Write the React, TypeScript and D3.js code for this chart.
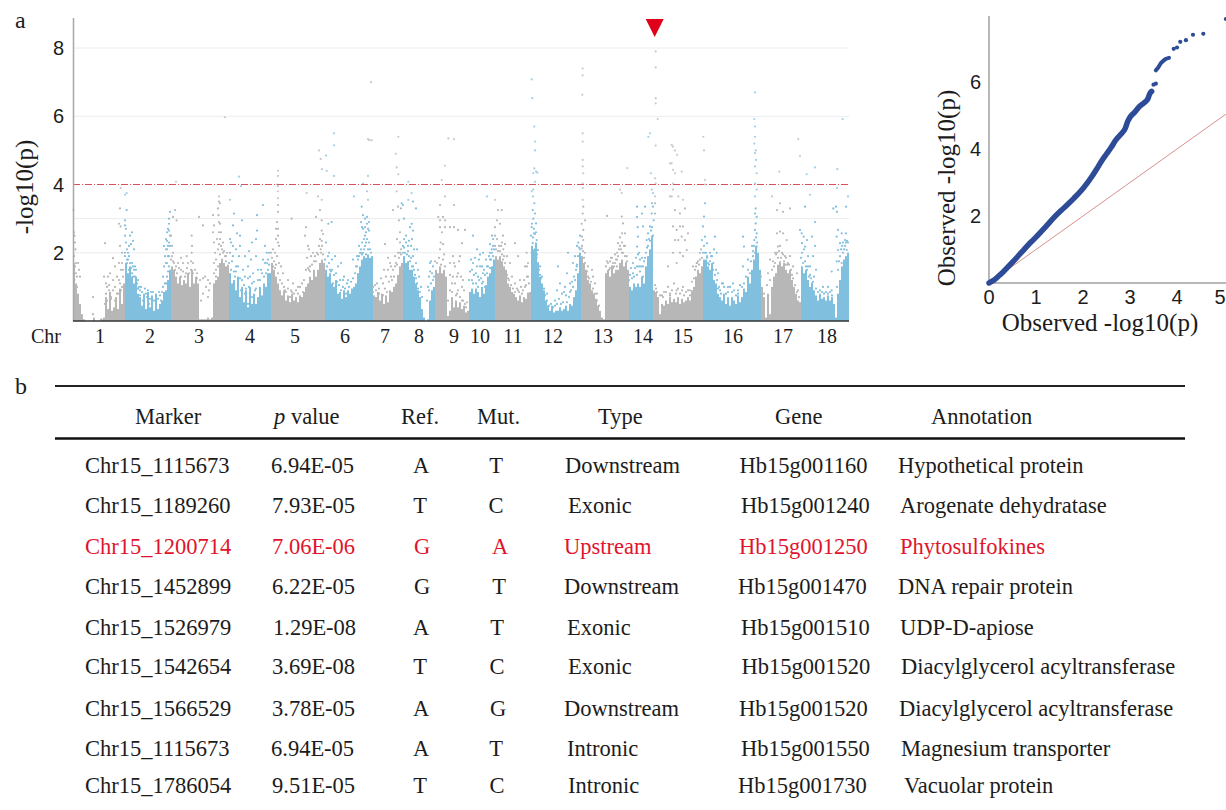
import React from "react";
import * as d3 from "d3";

type Pt = [number, number];

const W = 1226;
const H = 810;

// Manhattan: genome position (arbitrary units along the concatenated chromosomes), -log10(p)
const chrLabels = ["1", "2", "3", "4", "5", "6", "7", "8", "9", "10", "11", "12", "13", "14", "15", "16", "17", "18"];
const chrLabelPos = [27, 77, 126, 177, 222, 272, 312, 346, 381, 407, 440, 480, 530, 570, 610, 660, 710, 754];
const yTicks = [2, 4, 6, 8];
const gridValues = [2, 3, 6, 8];
const threshold = 4;

// top of the solid mass, one value per 2 position units, from the first position of each chromosome
const massStep = 2;
const massStarts = [0, 52, 98, 156, 198, 252, 300, 330, 362, 396, 422, 458, 508, 556, 580, 630, 688, 728];
const chr1Mass = [1.7, 1.1, 0.8, 0.5, 0.2, 0.05, 0, 0, 0, 0, 0.1, 0, 0, 0, 0.05, 0.1, 0.7, 0.35, 0.85, 0.3, 0.4, 0.7, 0.35, 0.95, 0.5, 1.1];
const chr2Mass = [1.7, 1.4, 1.6, 1.3, 1.1, 1.3, 0.8, 0.7, 0.45, 0.8, 0.35, 0.85, 0.4, 0.75, 0.3, 0.8, 0.35, 0.5, 0.6, 0.85, 0.9, 1.2, 1.5];
const chr3Mass = [1.6, 1.5, 1.3, 1.1, 1.3, 1.05, 1.2, 1.1, 1.4, 1.0, 1.5, 1.1, 1.3, 1.1, 0.05, 0.05, 0.05, 0.05, 0.1, 0.05, 0.1, 1.1, 1.2, 1.3, 1.7, 1.8, 1.7, 1.6, 1.65];
const chr4Mass = [1.4, 1.1, 1.2, 0.9, 1.3, 0.7, 1.0, 0.55, 0.9, 0.4, 1.0, 0.5, 0.8, 0.5, 0.7, 1.0, 0.75, 1.1, 1.0, 1.4, 1.4];
const chr5Mass = [1.7, 1.5, 1.3, 1.1, 0.9, 0.75, 0.9, 0.6, 0.75, 0.55, 0.8, 0.6, 0.7, 0.55, 0.75, 0.7, 0.85, 1.0, 1.1, 1.3, 1.2, 1.5, 1.3, 1.5, 1.7, 1.8, 1.7];
const chr6Mass = [1.5, 1.3, 1.4, 1.1, 1.0, 1.2, 0.8, 0.85, 0.65, 0.9, 0.7, 0.9, 0.8, 0.95, 1.0, 1.1, 1.4, 1.6, 1.8, 1.9, 1.85, 1.95, 1.85, 1.9];
const chr7Mass = [0.75, 0.7, 0.85, 0.6, 0.8, 0.5, 0.75, 0.55, 0.9, 0.85, 1.0, 1.1, 1.35, 1.6, 1.7];
const chr8Mass = [1.9, 1.7, 1.75, 1.5, 1.5, 1.3, 1.1, 0.9, 0.7, 0.35, 0.1, 0, 0.05, 0.6, 0.9, 1.0];
const chr9Mass = [1.5, 1.4, 1.6, 1.4, 1.5, 1.3, 0.15, 0.3, 0.7, 0.4, 0.6, 0.4, 0.55, 0.35, 0.45, 0.25, 0.3];
const chr10Mass = [0.85, 0.95, 0.8, 0.95, 0.85, 0.7, 1.0, 0.8, 1.05, 1.3, 1.4, 1.6, 1.8];
const chr11Mass = [1.9, 1.8, 1.9, 1.75, 1.6, 1.5, 1.1, 1.0, 0.85, 0.8, 0.7, 0.6, 0.75, 0.55, 0.7, 0.65, 0.8, 0.85];
const chr12Mass = [2.2, 2.1, 2.3, 1.7, 1.3, 1.1, 0.9, 0.6, 0.45, 0.3, 0.4, 0.25, 0.3, 0.3, 0.4, 0.3, 0.35, 0.45, 0.3, 0.5, 0.45, 0.7, 0.9, 1.4, 2.0];
const chr13Mass = [1.9, 1.7, 1.5, 1.2, 1.1, 0.9, 0.8, 0.65, 0.45, 0.3, 0.1, 0.05, 1.4, 1.5, 1.3, 1.6, 1.4, 1.5, 1.5, 1.7, 1.8, 1.6, 1.7, 1.5];
const chr14Mass = [1.0, 0.9, 1.1, 1.0, 1.1, 1.0, 1.3, 1.1, 1.6, 1.9, 2.1, 2.5];
const chr15Mass = [0.9, 0.85, 0.7, 0.2, 0.5, 0.45, 0.6, 0.5, 0.7, 0.55, 0.65, 0.55, 0.7, 0.5, 0.65, 0.55, 0.6, 0.7, 0.6, 0.9, 1.0, 1.3, 1.5, 1.4, 1.6];
const chr16Mass = [1.8, 1.8, 1.6, 1.5, 1.7, 1.2, 1.1, 0.8, 0.7, 0.6, 0.8, 0.5, 0.7, 0.45, 0.7, 0.6, 0.5, 0.75, 0.55, 0.7, 0.95, 0.85, 1.3, 1.1, 1.5, 1.8, 2.2, 2.0, 1.5];
const chr17Mass = [1.0, 0.7, 0.1, 0.8, 0.2, 1.0, 1.3, 1.4, 1.65, 1.75, 1.6, 1.7, 1.5, 1.4, 1.5, 1.2, 1.0, 0.8, 0.6, 0.55];
const chr18Mass = [1.6, 1.4, 1.5, 1.2, 1.0, 1.1, 0.9, 0.75, 0.6, 0.8, 0.65, 0.7, 0.6, 0.75, 0.6, 0.7, 0.5, 0.1, 0.8, 1.2, 1.6, 1.8, 1.9, 2.0];
const chrMass = [chr1Mass, chr2Mass, chr3Mass, chr4Mass, chr5Mass, chr6Mass, chr7Mass, chr8Mass, chr9Mass, chr10Mass, chr11Mass, chr12Mass, chr13Mass, chr14Mass, chr15Mass, chr16Mass, chr17Mass, chr18Mass];

// loose points above the mass
const chr1Dots: Pt[] = [[0.5, 3.25], [1, 2.6], [1.5, 2.5], [2, 2.3], [2.5, 2.1], [1, 1.9], [3, 1.7], [5, 1.7], [6, 1.5], [4, 1.3], [7, 1.3], [1.5, 1.2], [4, 1.0], [20, 0.7], [20, 0.2], [28, 0.05], [32, 2.28], [31, 1.3], [33, 1.1], [33, 0.8], [32, 0.5], [34, 1], [36, 0.9], [40, 1.84], [42, 1.6], [47, 2.2], [47.7, 2.77], [46, 2.85], [47, 3.3], [47.7, 3.9], [37, 1.4], [44, 1.3], [46, 1.7], [48, 1.5], [50, 1.3], [49, 1.0], [38, 0.7], [42, 0.6], [45, 0.8], [47, 1.1], [49, 2.0], [3, 0.9], [1, 1.4], [2, 1.6], [3, 1.4], [2, 0.95], [34, 0.6], [36, 1.05], [38, 0.65], [40, 0.9], [40, 1.2], [42, 1.0], [44, 0.8], [46, 1.2], [48, 0.9], [50, 1.5], [49, 1.7], [35, 1.3]];
const chr2Dots: Pt[] = [[52, 3.7], [53.7, 3.75], [53.7, 3.25], [52, 2.95], [52, 2.8], [53, 2.7], [52, 2.5], [53, 2.3], [54, 2.1], [52, 2.0], [55, 2.0], [57, 2.5], [59, 2.6], [60, 2.35], [56, 2.2], [58, 2.25], [61, 2.1], [54, 1.8], [57, 1.7], [60, 1.6], [63, 1.5], [56, 1.5], [59, 1.4], [62, 1.3], [65, 1.2], [68, 1.0], [64, 0.95], [67, 0.9], [72, 0.95], [75, 0.9], [78, 0.85], [80, 0.85], [74, 0.7], [70, 0.6], [76, 0.5], [79, 0.4], [83, 0.75], [86, 0.85], [88, 0.6], [90, 1.0], [90, 1.3], [91, 1.6], [92, 1.9], [91, 2.2], [93, 2.4], [94, 2.6], [95, 2.7], [96, 3.0], [97, 3.2], [96, 2.85], [94, 2.1], [95, 1.9], [93, 1.7], [96, 1.6], [92, 1.1], [94, 1.3], [97, 2.2], [96, 2.3], [66, 0.6], [62, 1.0], [58, 1.1], [55, 1.2], [52, 1.9], [53, 1.6], [54, 1.7], [55, 1.8], [56, 1.9], [57, 1.4], [58, 1.55], [59, 1.7], [60, 1.3], [61, 1.5], [62, 1.6], [64, 1.1], [63, 1.2], [65, 0.95], [66, 1.0], [67, 0.75], [69, 0.85], [71, 0.7], [73, 0.8], [75, 0.6], [77, 0.65], [79, 0.7], [81, 0.6], [83, 0.5], [85, 0.65], [87, 0.75], [89, 0.85], [91, 0.75], [93, 1.1], [95, 1.45], [94, 1.7], [96, 1.9], [95, 2.2], [93, 2.1], [94, 2.35], [97, 2.5], [96, 2.65]];
const chr3Dots: Pt[] = [[98, 2.5], [100, 2.0], [99, 1.9], [101, 1.7], [103, 1.6], [105, 1.7], [110, 1.7], [115, 1.7], [120, 1.7], [108, 1.5], [113, 1.4], [118, 1.5], [124, 1.4], [126, 3.05], [130, 2.8], [118.7, 2.5], [119, 2.2], [118.7, 2.0], [113.7, 1.9], [108, 1.85], [103, 4.08], [102, 3.25], [100, 3.05], [103.6, 2.95], [127, 1.2], [130, 1.25], [133, 1.0], [135, 1.2], [130, 0.8], [137, 1.1], [135, 0.7], [128, 0.6], [136, 0.9], [132, 1.3], [140, 2.6], [140, 3.1], [141, 2.8], [141, 2.3], [142, 2.0], [145, 3.3], [145.5, 3.1], [146, 2.9], [146, 2.6], [147, 2.4], [146, 3.5], [146, 3.65], [148, 2.2], [150, 2.3], [150, 2.0], [152, 1.9], [145, 2.1], [143, 1.8], [149, 1.8], [153, 1.75], [152, 5.97], [147, 3.45], [98, 1.8], [99, 2.2], [100, 1.75], [102, 1.5], [104, 1.4], [106, 1.55], [108, 1.3], [110, 1.45], [112, 1.3], [114, 1.55], [116, 1.4], [118, 1.75], [120, 1.4], [122, 1.5], [124, 1.25], [141, 1.4], [143, 1.5], [145, 1.6], [147, 1.95], [149, 2.1], [151, 2.05], [153, 1.9], [154, 2.0], [146, 2.25], [144, 2.4], [148, 2.6], [147, 2.85], [141, 1.7], [143, 1.3]];
const chr4Dots: Pt[] = [[157, 3.55], [161, 3.15], [169, 2.95], [160, 2.8], [164, 2.57], [167, 2.5], [160, 2.2], [157, 2.4], [179, 2.3], [184, 3.1], [184, 2.65], [183, 2.4], [190, 3.4], [166, 4.23], [168, 3.95], [193.7, 2.0], [192, 2.2], [160, 1.9], [163, 1.6], [166, 1.9], [170, 1.5], [172, 1.3], [175, 1.6], [178, 1.8], [180, 1.4], [183, 1.9], [185, 1.2], [188, 1.5], [190, 1.8], [193, 1.4], [195, 1.8], [196, 2.0], [162, 1.3], [165, 1.1], [168, 0.9], [172, 0.8], [176, 1.0], [179, 0.7], [182, 0.9], [186, 0.6], [175, 0.5], [170, 0.4], [178, 0.3], [156, 1.7], [157, 2.0], [158, 1.5], [159, 1.75], [161, 1.45], [163, 1.45], [165, 1.6], [167, 1.25], [169, 1.2], [171, 1.05], [173, 0.95], [175, 1.25], [177, 1.3], [179, 1.1], [181, 1.15], [183, 0.95], [185, 1.5], [187, 1.2], [189, 1.4], [191, 1.3], [192, 1.7], [194, 1.7], [196, 1.65], [195, 1.5], [158, 2.3], [163, 2.1], [167, 2.2], [172, 1.9], [176, 2.05]];
const chr5Dots: Pt[] = [[205, 4.4], [205, 4.25], [205, 3.95], [204, 4.0], [205, 3.8], [205, 3.6], [205, 3.4], [205, 3.2], [204, 2.9], [203, 2.7], [205, 2.5], [205, 2.7], [203, 2.4], [205, 2.3], [206, 2.2], [200, 2.1], [202, 2.0], [204, 1.9], [206, 1.7], [208, 1.6], [200, 1.6], [210, 1.4], [215, 1.2], [220, 1.1], [225, 1.0], [218, 0.9], [212, 0.9], [230, 0.85], [235, 1.0], [236, 1.5], [238, 1.9], [232, 2.5], [233.7, 3.75], [218.7, 3.0], [233, 2.75], [235, 2.2], [237, 1.6], [242, 1.9], [243, 3.05], [245, 3.65], [248.7, 3.55], [247, 3.25], [248.7, 2.95], [248.7, 2.65], [248.7, 2.35], [250, 2.55], [247.7, 2.1], [246, 5.0], [247.7, 4.75], [249, 4.45], [198, 2.0], [199, 1.85], [201, 1.75], [202, 1.55], [203, 1.65], [205, 1.4], [207, 1.2], [209, 1.1], [211, 1.0], [213, 0.85], [215, 0.95], [217, 0.7], [219, 0.85], [221, 0.8], [223, 0.9], [225, 0.8], [227, 1.0], [229, 1.1], [231, 1.2], [233, 1.5], [235, 1.55], [237, 1.45], [239, 1.65], [240, 2.0], [241, 1.75], [243, 1.75], [244, 2.0], [245, 1.95], [246, 2.2], [247, 2.4], [248, 2.0], [249, 2.2], [250, 1.95], [234, 1.85], [236, 2.1]];
const chr6Dots: Pt[] = [[253, 4.85], [253.7, 4.4], [261, 5.5], [261, 5.15], [261, 4.25], [255.3, 2.85], [258.7, 2.9], [288.7, 3.35], [294, 3.8], [295, 3.55], [295, 4.25], [281, 3.65], [290, 4.03], [290, 3.1], [292, 3.0], [288, 2.9], [294, 2.85], [296, 2.9], [290, 2.7], [293, 2.6], [296, 2.65], [291, 2.4], [289, 2.3], [294, 2.4], [296, 2.3], [292, 2.2], [288, 2.1], [295, 2.1], [286, 2.2], [284, 1.9], [287, 2.0], [290, 2.0], [293, 1.95], [280, 1.8], [283, 1.6], [256, 2.0], [259, 1.8], [262, 1.9], [265, 1.6], [268, 1.7], [263, 1.4], [267, 1.2], [271, 1.3], [275, 1.2], [257, 1.5], [260, 1.1], [270, 1.0], [273, 0.8], [252, 1.8], [253, 2.3], [254, 1.6], [255, 1.9], [256, 1.7], [257, 1.25], [258, 1.45], [259, 1.5], [261, 1.35], [263, 1.1], [264, 1.15], [266, 1.05], [268, 0.9], [270, 1.2], [272, 0.95], [274, 1.1], [276, 1.0], [278, 1.15], [280, 1.25], [282, 1.4], [284, 1.6], [285, 1.8], [286, 1.9], [288, 2.0], [289, 1.95], [291, 2.1], [292, 2.5], [293, 2.3], [295, 2.7], [297, 2.1], [298, 2.0], [294, 3.05], [292, 2.75], [289, 2.75]];
const chr7Dots: Pt[] = [[298, 7.0], [295, 5.33], [296.3, 5.3], [298.6, 5.3], [320, 3.25], [323.7, 3.8], [325, 3.35], [323.7, 4.5], [322.7, 4.9], [325.3, 5.4], [325.3, 4.3], [312, 2.25], [315, 1.85], [317, 1.7], [300, 1.0], [303, 0.9], [306, 0.95], [310, 1.1], [313, 1.3], [311, 1.5], [315, 1.5], [318, 1.3], [320, 1.5], [323, 1.7], [325, 2.0], [327, 2.3], [327, 2.6], [326, 2.95], [328, 3.3], [328, 2.1], [324, 2.4], [322, 1.9], [300, 0.85], [302, 1.05], [304, 1.1], [306, 0.8], [308, 1.25], [310, 0.75], [312, 0.95], [314, 0.85], [316, 1.15], [318, 1.6], [319, 1.2], [321, 1.3], [322, 1.6], [324, 1.65], [326, 1.85], [327, 2.0], [328, 1.95]];
const chr8Dots: Pt[] = [[331, 3.0], [328.7, 3.45], [330, 3.4], [335.3, 4.08], [335.3, 3.55], [338.7, 3.75], [340, 3.5], [343, 3.3], [338.7, 2.85], [340, 2.65], [337, 2.75], [331, 2.4], [333, 2.3], [335, 2.2], [338, 2.2], [341, 2.1], [330, 2.0], [336, 1.9], [340, 1.9], [343, 1.7], [345, 1.5], [344, 2.1], [346, 1.3], [348, 1.0], [349, 0.7], [355, 1.0], [356, 1.3], [357, 1.7], [358, 1.75], [360, 1.6], [354, 0.6], [358, 1.1], [360, 1.2], [330, 2.2], [331, 2.15], [332, 2.0], [333, 2.5], [334, 1.95], [335, 2.05], [336, 2.35], [337, 1.75], [338, 1.85], [339, 1.6], [339, 2.4], [340, 1.6], [341, 1.5], [342, 1.35], [343, 1.25], [344, 1.1], [345, 0.95], [347, 0.85], [356, 0.9], [357, 1.45], [359, 1.4], [361, 1.3]];
const chr9Dots: Pt[] = [[368.7, 4.13], [372, 4.55], [375.3, 5.35], [367, 3.4], [372, 3.65], [365.3, 3.05], [367, 2.95], [370, 3.05], [372, 2.75], [367, 2.75], [367.7, 2.3], [370, 2.25], [367, 2.1], [371, 1.95], [381, 5.33], [381, 3.4], [372, 2.95], [369, 2.6], [381, 2.75], [377, 2.75], [385, 2.67], [392, 2.67], [389, 2.28], [380, 1.9], [387, 1.9], [377, 1.7], [382, 1.6], [385, 1.4], [390, 1.2], [379, 1.1], [384, 0.8], [389, 0.6], [393, 0.4], [377, 0.9], [379, 0.4], [362, 1.75], [364, 1.7], [366, 1.85], [368, 1.65], [370, 1.8], [372, 1.6], [375, 0.6], [377, 1.35], [379, 0.85], [380, 1.3], [381, 1.7], [382, 1.1], [383, 0.75], [384, 1.3], [385, 0.9], [386, 1.75], [387, 0.7], [388, 1.3], [389, 1.0], [390, 0.6], [391, 0.9], [392, 0.5], [394, 0.55]];
const chr10Dots: Pt[] = [[400, 2.5], [404, 2.1], [410, 2.0], [400, 1.7], [407, 1.6], [399, 1.5], [403, 1.4], [406, 1.8], [410, 1.4], [414, 1.6], [417, 2.25], [419, 2.5], [420, 2.4], [417, 2.0], [418.7, 2.1], [420, 1.9], [415, 1.2], [417, 1.8], [414, 3.65], [400, 1.1], [405, 1.0], [409, 1.1], [412, 1.0], [396, 1.2], [397, 1.45], [398, 1.8], [399, 1.2], [401, 1.35], [402, 1.85], [403, 1.1], [404, 1.6], [405, 1.3], [406, 1.2], [407, 1.95], [408, 1.25], [409, 1.6], [410, 1.15], [411, 1.5], [412, 1.35], [413, 1.8], [414, 1.4], [415, 1.6], [416, 1.9], [417, 1.55], [418, 1.8], [419, 2.0], [420, 2.2], [421, 2.1]];
const chr11Dots: Pt[] = [[422, 3.55], [424, 2.95], [425, 3.25], [428.7, 3.25], [427, 2.85], [422, 2.75], [422, 2.5], [430, 2.5], [429, 2.3], [432, 2.25], [430.3, 2.1], [442, 2.28], [434, 1.9], [437, 1.7], [439, 1.3], [442, 1.1], [445, 0.9], [449, 0.8], [452, 1.6], [453.7, 2.0], [454, 1.3], [455, 1.7], [452, 1.0], [445, 1.9], [447, 1.2], [455, 0.8], [422, 2.2], [423, 2.1], [424, 2.4], [425, 2.05], [426, 2.2], [427, 2.05], [428, 2.2], [429, 1.95], [430, 1.8], [431, 1.9], [432, 1.7], [433, 1.45], [434, 1.35], [435, 1.25], [436, 1.2], [438, 1.05], [440, 0.95], [442, 0.85], [444, 0.95], [446, 0.85], [448, 1.0], [450, 0.9], [451, 1.2], [453, 1.05], [454, 1.6], [455, 1.3], [456, 1.1]];
const chr12Dots: Pt[] = [[458.7, 7.08], [459.3, 6.53], [461.3, 5.7], [462, 5.26], [462, 5.0], [461.3, 4.47], [463, 4.38], [460.3, 4.33], [464.3, 4.35], [462, 4.08], [460.3, 3.85], [458.7, 3.8], [460, 3.65], [461.3, 3.45], [459.7, 3.25], [462, 3.15], [460.3, 3.0], [463, 2.86], [458.7, 2.75], [461, 2.57], [463.7, 2.37], [459.7, 2.28], [462, 2.1], [458.7, 2.0], [465, 2.08], [463.7, 1.85], [467, 1.6], [469, 1.3], [474, 0.8], [495, 2.0], [485, 1.6], [494, 1.4], [487, 1.1], [492, 1.0], [497, 1.1], [500, 1.7], [502, 1.9], [504, 2.2], [505.3, 2.3], [507, 2.5], [503.7, 1.6], [479, 0.42], [482, 0.6], [484, 0.9], [489, 0.8], [458, 2.5], [459, 2.85], [460, 2.45], [461, 2.7], [462, 2.55], [463, 2.2], [463, 2.6], [464, 1.95], [465, 1.7], [466, 1.5], [467, 1.35], [468, 1.25], [469, 1.05], [471, 0.95], [472, 0.75], [474, 0.6], [476, 0.45], [478, 0.5], [480, 0.4], [482, 0.45], [484, 0.5], [486, 0.65], [488, 0.5], [490, 0.55], [491, 0.85], [493, 0.75], [494, 0.55], [496, 0.7], [497, 0.85], [498, 0.9], [499, 1.15], [500, 1.0], [501, 1.3], [502, 1.2], [503, 1.5], [504, 1.65], [505, 1.9], [506, 2.15], [507, 2.1]];
const chr13Dots: Pt[] = [[509.7, 7.4], [509.7, 7.2], [509.3, 6.63], [509.7, 5.5], [509.7, 5.26], [509.7, 4.72], [509.7, 4.53], [510.3, 4.33], [509.7, 4.03], [509.7, 3.9], [509.7, 3.55], [510.3, 3.35], [509.7, 3.15], [512, 2.95], [508.7, 2.85], [510.3, 2.67], [509, 2.47], [510.3, 2.37], [508.7, 2.13], [512, 2.0], [515, 1.6], [519, 1.5], [520, 1.3], [522, 1.1], [524, 0.8], [534, 3.08], [537, 1.75], [540, 1.7], [544, 2.0], [545, 2.28], [549, 2.57], [550, 2.86], [548.7, 3.06], [552, 2.57], [552, 2.2], [547, 3.85], [548.7, 3.75], [554.3, 4.48], [549, 2.0], [544, 1.6], [539, 1.6], [542, 1.95], [553.7, 1.9], [509, 2.2], [510, 2.05], [511, 1.85], [512, 1.7], [513, 1.4], [514, 1.45], [515, 1.3], [516, 1.25], [517, 1.05], [518, 1.15], [520, 0.95], [522, 0.8], [524, 0.6], [526, 0.45], [533, 1.6], [534, 1.75], [535, 1.7], [536, 1.5], [537, 1.55], [538, 1.85], [539, 1.85], [540, 1.55], [541, 1.6], [542, 1.7], [543, 1.8], [544, 1.8], [545, 1.9], [546, 2.1], [547, 2.2], [547, 2.45], [548, 2.1], [549, 2.3], [550, 2.0], [551, 2.2], [552, 1.9], [553, 1.7], [554, 1.75]];
const chr14Dots: Pt[] = [[564, 3.35], [564, 3.05], [564.7, 2.75], [565, 2.47], [564, 2.18], [566, 2.0], [569, 3.15], [572, 3.35], [570, 2.77], [567, 1.8], [570, 1.6], [564, 1.6], [560, 1.4], [575, 2.57], [573.7, 2.37], [577, 2.77], [578.7, 3.15], [579, 3.45], [578.7, 3.85], [578, 4.33], [577, 5.5], [575.3, 5.4], [580, 3.75], [580, 3.35], [580.7, 2.95], [556, 1.2], [557, 1.35], [558, 1.55], [559, 1.25], [560, 1.7], [561, 1.3], [562, 1.55], [563, 1.85], [564, 1.35], [565, 1.95], [566, 1.6], [567, 1.45], [568, 1.6], [569, 1.85], [570, 1.3], [571, 1.75], [572, 1.85], [573, 2.0], [574, 2.15], [575, 2.2], [576, 2.4], [577, 2.35], [578, 2.65], [579, 2.75], [580, 2.5], [579, 2.2]];
const chr15Dots: Pt[] = [[582.7, 7.9], [582.7, 7.43], [582.7, 6.53], [582.7, 6.38], [584.7, 5.92], [582.7, 5.14], [582, 4.18], [582.7, 4.03], [582, 3.65], [582, 3.45], [582, 3.15], [597, 4.62], [598.7, 4.62], [598.7, 5.16], [600, 5.11], [602, 5.0], [604, 4.87], [600, 4.43], [602, 4.33], [608.7, 4.38], [600, 4.03], [598.7, 3.65], [597, 3.65], [600, 3.85], [605.3, 3.65], [610, 3.55], [602, 3.25], [612, 3.3], [607, 3.15], [600, 2.77], [603.7, 2.67], [607, 2.77], [610, 2.77], [602, 2.37], [605.3, 2.37], [608.7, 2.47], [612, 2.37], [615, 2.57], [600, 2.0], [607, 2.0], [613.7, 2.08], [610, 1.9], [595, 1.6], [603.7, 1.7], [620, 1.6], [623.7, 1.7], [627, 2.0], [590, 0.7], [597, 0.8], [603.7, 0.9], [610, 1.0], [617, 0.9], [630.3, 5.4], [631, 5.0], [632, 4.13], [632, 4.0], [582, 1.05], [583, 0.95], [584, 0.85], [587, 0.75], [589, 0.75], [591, 0.85], [593, 0.85], [595, 1.0], [597, 0.75], [599, 0.9], [601, 1.1], [603, 0.8], [605, 0.95], [607, 0.8], [609, 0.9], [611, 0.75], [613, 0.85], [615, 0.9], [617, 0.75], [619, 1.15], [621, 1.25], [622, 1.5], [623, 1.6], [624, 1.7], [625, 1.75], [626, 1.65], [627, 1.8], [629, 1.85], [628, 2.1]];
const chr16Dots: Pt[] = [[632, 3.45], [631, 3.06], [630, 2.77], [632, 2.47], [629, 2.37], [634, 2.28], [642, 2.47], [637, 2.0], [643.7, 2.0], [634, 1.9], [640.3, 1.7], [645, 1.4], [650, 1.1], [655, 1.0], [660, 1.1], [665, 0.9], [670, 2.47], [671, 2.18], [670, 1.6], [675, 1.8], [680, 1.9], [679, 2.2], [682, 6.7], [681.3, 5.92], [682, 5.7], [682, 5.4], [681.3, 5.2], [682.7, 5.0], [682, 4.92], [683, 4.72], [682, 4.53], [683.7, 4.33], [682, 4.03], [683.7, 3.85], [682, 3.65], [682.7, 3.3], [682, 3.15], [683.7, 3.05], [682.7, 2.86], [682, 2.67], [683.7, 2.57], [681.3, 2.37], [683.7, 2.18], [682, 2.0], [630, 2.0], [631, 2.2], [632, 2.0], [633, 2.0], [634, 1.85], [635, 1.7], [636, 1.65], [637, 1.75], [638, 1.9], [639, 1.9], [640, 1.5], [641, 2.1], [642, 1.35], [643, 1.5], [644, 1.2], [645, 0.95], [646, 1.0], [647, 0.9], [648, 0.8], [649, 1.1], [651, 1.0], [653, 0.8], [655, 0.85], [657, 1.0], [659, 0.85], [661, 0.9], [663, 0.75], [665, 0.8], [667, 1.05], [669, 1.0], [671, 1.1], [673, 1.3], [675, 1.5], [677, 1.4], [678, 1.75], [680, 2.05], [681, 2.2], [683, 2.45], [684, 2.3], [685, 1.75]];
const chr17Dots: Pt[] = [[699, 3.65], [706.3, 4.38], [707, 3.45], [704, 3.25], [710, 3.2], [717, 3.3], [725.3, 5.33], [727, 4.84], [704, 2.57], [707, 2.62], [710, 2.57], [713.7, 2.37], [705, 2.18], [702, 2.0], [697, 1.8], [717, 1.9], [712, 1.9], [720, 1.6], [724, 1.4], [695, 1.4], [725, 0.9], [688, 1.3], [691, 0.8], [694, 1.05], [697, 1.2], [699, 1.5], [700, 1.75], [701, 1.6], [702, 1.7], [703, 1.95], [704, 2.0], [705, 1.85], [706, 2.05], [707, 2.2], [708, 1.85], [709, 2.0], [710, 1.95], [711, 1.75], [712, 1.65], [713, 1.85], [714, 1.65], [715, 1.7], [716, 1.65], [718, 1.5], [719, 1.35], [720, 1.25], [722, 1.05], [724, 0.85], [726, 0.7]];
const chr18Dots: Pt[] = [[733.7, 4.3], [742, 4.5], [732, 3.35], [727, 2.67], [728.7, 2.57], [730.7, 2.47], [729, 2.28], [732, 2.18], [734, 2.37], [739, 2.47], [742, 2.9], [742, 2.2], [735, 1.9], [740, 1.9], [737, 1.6], [743, 1.5], [750, 1.0], [755, 1.0], [758.7, 0.9], [747, 0.9], [764, 3.9], [764.3, 4.45], [737, 3.7], [769.7, 5.92], [760.3, 3.3], [763, 3.35], [764, 3.2], [773, 3.35], [775, 3.65], [765, 2.67], [768.7, 2.57], [773, 2.57], [763.7, 2.47], [767, 2.28], [772, 2.37], [765, 2.08], [770, 2.0], [773.7, 2.08], [763.7, 1.75], [758.7, 1.45], [768.7, 1.7], [728, 1.85], [729, 2.0], [730, 1.7], [731, 2.1], [732, 1.75], [733, 1.6], [734, 1.5], [735, 1.6], [736, 1.3], [737, 1.35], [738, 1.25], [739, 1.1], [740, 1.15], [741, 1.3], [743, 0.95], [745, 0.85], [747, 0.75], [749, 0.85], [751, 0.8], [753, 0.85], [755, 0.8], [757, 0.85], [759, 0.75], [764, 1.0], [765, 1.5], [766, 1.75], [767, 1.9], [768, 2.1], [769, 2.2], [770, 2.3], [771, 2.1], [772, 2.2], [773, 2.3], [774, 2.35], [775, 2.3]];
const chrDots = [chr1Dots, chr2Dots, chr3Dots, chr4Dots, chr5Dots, chr6Dots, chr7Dots, chr8Dots, chr9Dots, chr10Dots, chr11Dots, chr12Dots, chr13Dots, chr14Dots, chr15Dots, chr16Dots, chr17Dots, chr18Dots];

// QQ plot
const qqTicksX = [0, 1, 2, 3, 4, 5];
const qqTicksY = [2, 4, 6];
const qqBody: Pt[] = [[0, 0], [0.1, 0.08], [0.2, 0.2], [0.3, 0.33], [0.5, 0.62], [0.7, 0.93], [0.9, 1.23], [1, 1.37], [1.2, 1.67], [1.4, 1.98], [1.6, 2.25], [1.8, 2.52], [2, 2.82], [2.2, 3.2], [2.3, 3.42], [2.4, 3.65], [2.5, 3.85], [2.6, 4.05], [2.7, 4.27], [2.8, 4.43], [2.9, 4.62], [2.95, 4.82], [3, 4.95], [3.1, 5.1], [3.2, 5.27], [3.3, 5.38], [3.38, 5.5], [3.42, 5.65], [3.46, 5.72]];
const qqUpper: Pt[] = [[3.55, 6.35], [3.6, 6.43], [3.65, 6.55], [3.7, 6.62], [3.75, 6.68], [3.83, 6.72]];
const qqTail: Pt[] = [[3.5, 5.92], [3.55, 5.95], [3.93, 6.99], [4.0, 7.03], [4.07, 7.2], [4.19, 7.25], [4.34, 7.41], [4.56, 7.44], [5.04, 7.88]];
const qqDiagonal: Pt[] = [[0, 0], [5.04, 5.04]];

// table
const tableHeaders = ["Marker", "value", "Ref.", "Mut.", "Type", "Gene", "Annotation"];
const markers = ["Chr15_1115673", "Chr15_1189260", "Chr15_1200714", "Chr15_1452899", "Chr15_1526979", "Chr15_1542654", "Chr15_1566529", "Chr15_1115673", "Chr15_1786054"];
const pValues = ["6.94E-05", "7.93E-05", "7.06E-06", "6.22E-05", "1.29E-08", "3.69E-08", "3.78E-05", "6.94E-05", "9.51E-05"];
const refs = ["A", "T", "G", "G", "A", "T", "A", "A", "T"];
const muts = ["T", "C", "A", "T", "T", "C", "G", "T", "C"];
const types = ["Downstream", "Exonic", "Upstream", "Downstream", "Exonic", "Exonic", "Downstream", "Intronic", "Intronic"];
const genes = ["Hb15g001160", "Hb15g001240", "Hb15g001250", "Hb15g001470", "Hb15g001510", "Hb15g001520", "Hb15g001520", "Hb15g001550", "Hb15g001730"];
const annotations = ["Hypothetical protein", "Arogenate dehydratase", "Phytosulfokines", "DNA repair protein", "UDP-D-apiose", "Diacylglycerol acyltransferase", "Diacylglycerol acyltransferase", "Magnesium transporter", "Vacuolar protein"];
const highlightRow = 2;

// hand layout of the table, the source columns wobble row by row
const rowBaselines = [473, 513, 554, 594, 635, 674, 716, 756, 793];
const pX = [271, 272, 272, 272, 273, 272, 272, 271, 272];
const refX = [421, 420, 422, 422, 421, 420, 421, 421, 420];
const mutX = [496, 496, 500, 499, 497, 497, 498, 496, 497];
const typeX = [565, 568, 564, 564, 567, 568, 564, 567, 568];
const geneX = [739.5, 741, 739, 738, 741, 741.5, 739, 741, 738];
const annX = [898, 900, 900, 898, 900, 901, 899, 901, 904];
const headerX = [135, 274, 401, 477, 598, 775, 931];

const SERIF = "'Liberation Serif', 'Times New Roman', serif";
const SANS = "'Liberation Sans', Arial, sans-serif";
const GRAY = "#b7b7b7";
const BLUE = "#80bfde";
const TEXT = "#1c1c1c";
const RED = "#e0142c";

const ManhattanPanel = () => {
  const x = d3.scaleLinear().domain([0, 776]).range([73, 849]);
  const y = d3.scaleLinear().domain([0, 8]).range([321, 48]);
  const triX = x(581.7);

  return (
    <g>
      {gridValues.map((v) => (
        <line key={v} x1={x(0)} x2={x(776)} y1={y(v)} y2={y(v)} stroke="#ececec" strokeWidth={1} />
      ))}
      {chrMass.map((mass, i) =>
        mass.map((h, j) => {
          const pos = massStarts[i] + j * massStep;
          return (
            <rect key={`m${i}-${j}`} x={x(pos)} y={y(h)} width={x(pos + massStep) - x(pos)} height={y(0) - y(h)} fill={i % 2 === 0 ? GRAY : BLUE} />
          );
        })
      )}
      {chrDots.map((dots, i) =>
        dots.map((d, j) => (
          <circle key={`${i}-${j}`} cx={x(d[0])} cy={y(d[1])} r={1.1} fill={i % 2 === 0 ? GRAY : BLUE} opacity={d[1] > 3.5 ? 0.75 : 1} />
        ))
      )}
      <line x1={x(0)} x2={x(776)} y1={y(threshold)} y2={y(threshold)} stroke="#d8505a" strokeWidth={1} strokeDasharray="7 2 1 2" />
      <line x1={73.5} x2={73.5} y1={18} y2={321} stroke="#a8a8a8" strokeWidth={1.5} />
      <line x1={73} x2={849} y1={321} y2={321} stroke="#333" strokeWidth={1.5} />
      {yTicks.map((t) => (
        <text key={t} x={64} y={y(t)} dy="0.36em" textAnchor="end" fontFamily={SANS} fontSize={20} fill={TEXT}>{t}</text>
      ))}
      <text transform="translate(33,187) rotate(-90)" textAnchor="middle" fontFamily={SERIF} fontSize={25} fill={TEXT}>-log10(p)</text>
      <text x={31} y={343} fontFamily={SERIF} fontSize={20} fill={TEXT}>Chr</text>
      {chrLabels.map((c, i) => (
        <text key={c} x={x(chrLabelPos[i])} y={343} textAnchor="middle" fontFamily={SERIF} fontSize={20} fill={TEXT}>{c}</text>
      ))}
      <path d={`M${triX - 9},19 L${triX + 9},19 L${triX},37 Z`} fill="#e0001b" />
    </g>
  );
};

const QQPanel = () => {
  const x = d3.scaleLinear().domain([0, 5]).range([989, 1224]);
  const y = d3.scaleLinear().domain([0, 6]).range([283, 82]);
  const line = d3.line<Pt>().x((d) => x(d[0])).y((d) => y(d[1]));
  const smooth = d3.line<Pt>().x((d) => x(d[0])).y((d) => y(d[1])).curve(d3.curveMonotoneX);
  const qqColor = "#2d4b97";

  return (
    <g>
      <line x1={989} x2={989} y1={16} y2={283} stroke="#a0a0a0" strokeWidth={1.5} />
      <line x1={989} x2={1226} y1={283} y2={283} stroke="#a0a0a0" strokeWidth={1.5} />
      <path d={line(qqDiagonal) ?? ""} fill="none" stroke="#d98f8f" strokeWidth={1} />
      <path d={smooth(qqBody) ?? ""} fill="none" stroke={qqColor} strokeWidth={5.5} strokeLinecap="round" />
      <path d={smooth(qqUpper) ?? ""} fill="none" stroke={qqColor} strokeWidth={4} strokeLinecap="round" />
      {qqTail.map((d, i) => (
        <circle key={i} cx={x(d[0])} cy={y(d[1])} r={2.1} fill={qqColor} />
      ))}
      {qqTicksY.map((t) => (
        <text key={t} x={981} y={y(t)} dy="0.36em" textAnchor="end" fontFamily={SANS} fontSize={20} fill={TEXT}>{t}</text>
      ))}
      {qqTicksX.map((t) => (
        <text key={t} x={Math.min(x(t), 1220)} y={304} textAnchor="middle" fontFamily={SANS} fontSize={20} fill={TEXT}>{t}</text>
      ))}
      <text x={1100} y={331} textAnchor="middle" fontFamily={SERIF} fontSize={25} fill={TEXT}>Observed -log10(p)</text>
      <text transform="translate(955,188) rotate(-90)" textAnchor="middle" fontFamily={SERIF} fontSize={25} fill={TEXT}>Observed -log10(p)</text>
    </g>
  );
};

const TablePanel = () => (
  <g fontFamily={SERIF} fontSize={22.5} fill={TEXT}>
    <line x1={55} x2={1185} y1={386} y2={386} stroke="#222" strokeWidth={2} />
    <line x1={55} x2={1185} y1={438.5} y2={438.5} stroke="#111" strokeWidth={2.5} />
    {tableHeaders.map((h, i) =>
      i === 1 ? (
        <text key={h} x={headerX[i]} y={424}><tspan fontStyle="italic">p</tspan> {h}</text>
      ) : (
        <text key={h} x={headerX[i]} y={424}>{h}</text>
      )
    )}
    {markers.map((m, i) => (
      <g key={i} fill={i === highlightRow ? RED : TEXT}>
        <text x={85} y={rowBaselines[i]}>{m}</text>
        <text x={pX[i]} y={rowBaselines[i]}>{pValues[i]}</text>
        <text x={refX[i]} y={rowBaselines[i]} textAnchor="middle">{refs[i]}</text>
        <text x={mutX[i]} y={rowBaselines[i]} textAnchor="middle">{muts[i]}</text>
        <text x={typeX[i]} y={rowBaselines[i]}>{types[i]}</text>
        <text x={geneX[i]} y={rowBaselines[i]}>{genes[i]}</text>
        <text x={annX[i]} y={rowBaselines[i]}>{annotations[i]}</text>
      </g>
    ))}
  </g>
);

export default function App() {
  return (
    <svg width={W} height={H} viewBox={`0 0 ${W} ${H}`} style={{ position: "absolute", left: 0, top: 0, background: "#fff" }}>
      <text x={15} y={28} fontFamily={SERIF} fontSize={24} fill={TEXT}>a</text>
      <text x={15} y={394} fontFamily={SERIF} fontSize={24} fill={TEXT}>b</text>
      <ManhattanPanel />
      <QQPanel />
      <TablePanel />
    </svg>
  );
}
